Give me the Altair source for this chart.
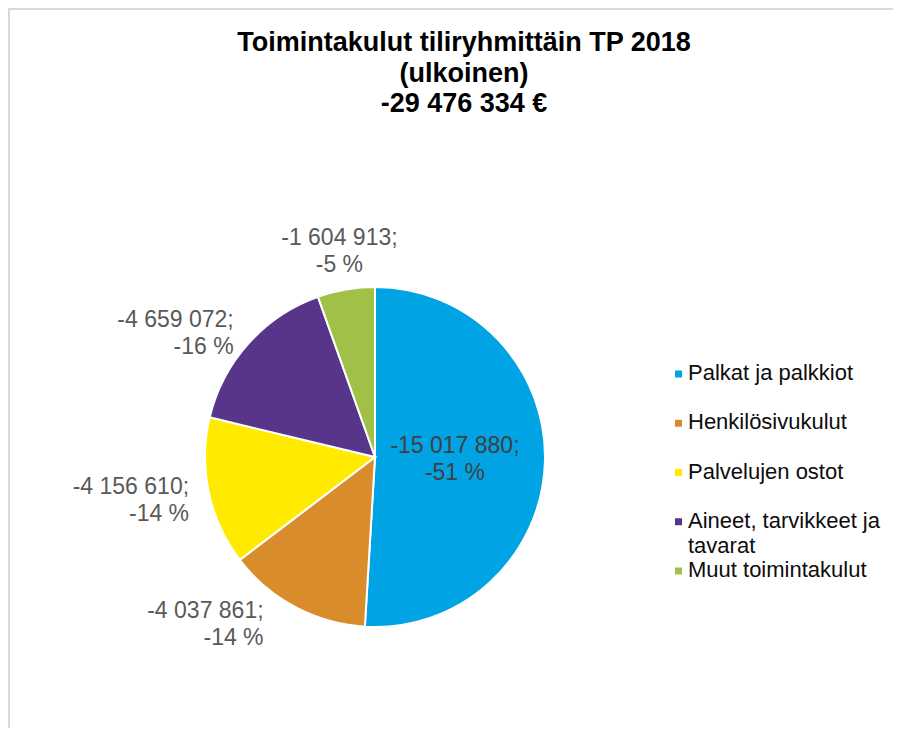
import altair as alt
import pandas as pd

categories = ["Palkat ja palkkiot", "Henkilösivukulut", "Palvelujen ostot",
              "Aineet, tarvikkeet ja tavarat", "Muut toimintakulut"]
legend_labels = ["Palkat ja palkkiot", "Henkilösivukulut", "Palvelujen ostot",
                 "Aineet, tarvikkeet ja\ntavarat", "Muut toimintakulut"]
values = [-15017880, -4037861, -4156610, -4659072, -1604913]
colors = ["#00a3e4", "#d98c2b", "#ffea00", "#56358a", "#a0c048"]
title_lines = ["Toimintakulut tiliryhmittäin TP 2018", "(ulkoinen)", "-29 476 334 €"]

total = sum(abs(v) for v in values)
labels = [f"{v:,}".replace(",", " ") + ";\n" + f"-{round(abs(v) / total * 100)} %" for v in values]

df = pd.DataFrame({"cat": categories, "value": values, "order": list(range(len(categories))),
                   "label": labels})
legend_df = pd.DataFrame({"cat": categories, "text": legend_labels})

FONT = "Liberation Sans"
color_enc = alt.Color("cat:N", scale=alt.Scale(domain=categories, range=colors), legend=None)

base = alt.Chart(df).transform_calculate(amount="abs(datum.value)")

arcs = base.mark_arc(outerRadius=170, stroke="white", strokeWidth=2).encode(
    theta=alt.Theta("amount:Q", stack=True),
    color=color_enc,
    order=alt.Order("order:Q"),
)


def label_layer(cond, radius, align, color, dx=0, dy=-13.5):
    return base.mark_text(radius=radius, align=align, baseline="middle", lineBreak="\n",
                          fontSize=23, font=FONT, color=color, lineHeight=27,
                          dy=dy, dx=dx).encode(
        theta=alt.Theta("amount:Q", stack=True),
        order=alt.Order("order:Q"),
        text=alt.condition(cond, alt.Text("label:N"), alt.value("")),
    )


inside = label_layer("datum.order == 0", 80, "center", "#404040")
lower_left = label_layer("datum.order == 1", 190, "right", "#595959", dx=-22)
left = label_layer("datum.order == 2 || datum.order == 3", 190, "right", "#595959", dy=-9.5)
top = label_layer("datum.order == 4", 209, "center", "#595959")

leg_y = alt.Y("cat:N", scale=alt.Scale(domain=categories, range=[186, 383], padding=0), axis=None)
leg_sq = alt.Chart(legend_df).mark_square(size=49, opacity=1).encode(
    x=alt.value(670.5), y=leg_y, color=color_enc)
leg_tx = alt.Chart(legend_df).mark_text(align="left", baseline="top", dy=-11, lineBreak="\n",
                                         fontSize=22, font=FONT, color="#0d0d0d",
                                         lineHeight=25).encode(
    x=alt.value(680), y=leg_y, text="text:N")

border_top = alt.Chart(df).mark_rule(color="#d9d9d9", strokeWidth=2).encode(
    x=alt.value(0), x2=alt.value(885), y=alt.value(-179))
border_left = alt.Chart(df).mark_rule(color="#d9d9d9", strokeWidth=2).encode(
    x=alt.value(1), y=alt.value(-180), y2=alt.value(540))

chart = alt.layer(border_top, border_left, arcs, inside, lower_left, left, top,
                  leg_sq, leg_tx).properties(
    width=734, height=538,
    autosize=alt.AutoSizeParams(type="none"),
    padding={"left": 0, "top": 180, "right": 151, "bottom": 2},
    title=alt.TitleParams(text=title_lines, fontSize=27, fontWeight="bold", font=FONT,
                          color="black", lineHeight=30.5, anchor="middle", dx=89,
                          offset=0, dy=111),
).configure_view(stroke=None)

chart.save("out.html", embed_options={"renderer": "svg", "actions": False})
